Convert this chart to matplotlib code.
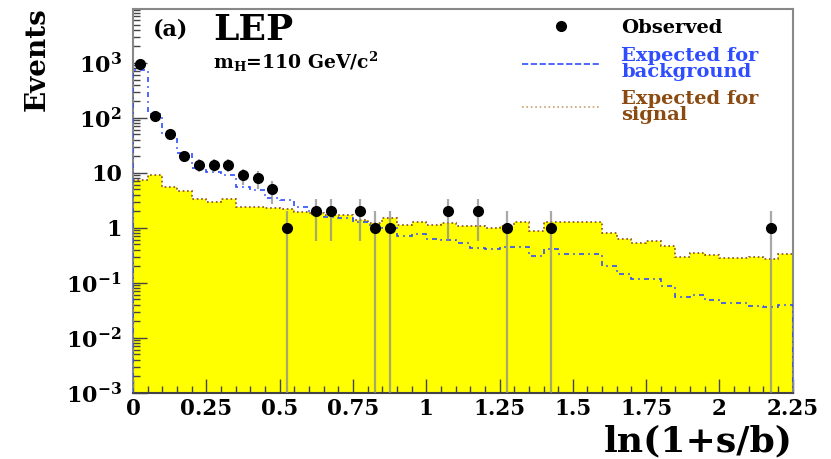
import matplotlib
matplotlib.use("Agg")
import matplotlib.pyplot as plt
import numpy as np
from matplotlib.lines import Line2D

plt.rcParams['font.family'] = 'DejaVu Serif'
plt.rcParams['font.weight'] = 'bold'
plt.rcParams['mathtext.fontset'] = 'dejavuserif'
plt.rcParams['mathtext.default'] = 'bf'

# 45 bins of width 0.05 on ln(1+s/b) from 0 to 2.25
edges = np.linspace(0, 2.25, 46)

background = [750, 120, 48, 23, 12.3, 10.6, 9.2, 5.6, 4.9, 3.5,
              3.2, 2.4, 1.8, 1.58, 1.5, 1.3, 1.15, 1.0, 0.7, 0.78,
              0.62, 0.6, 0.53, 0.44, 0.41, 0.45, 0.45, 0.31, 0.41, 0.33,
              0.33, 0.33, 0.2, 0.146, 0.116, 0.116, 0.088, 0.056, 0.06, 0.049,
              0.043, 0.043, 0.038, 0.036, 0.04]

signal = [7.5, 9.2, 5.6, 4.6, 3.4, 3.0, 3.4, 2.4, 2.4, 2.3,
          2.2, 1.95, 1.9, 1.72, 1.72, 1.4, 1.25, 1.5, 1.13, 1.28,
          1.13, 1.25, 1.09, 1.1, 1.0, 1.09, 1.3, 0.89, 1.3, 1.3,
          1.3, 1.3, 0.81, 0.63, 0.54, 0.58, 0.46, 0.29, 0.355, 0.32,
          0.28, 0.28, 0.30, 0.27, 0.34]

obs_x = [0.025, 0.075, 0.125, 0.175, 0.225, 0.275, 0.325, 0.375, 0.425, 0.475,
         0.525, 0.625, 0.675, 0.775, 0.825, 0.875, 1.075, 1.175, 1.275, 1.425,
         2.175]
obs_n = [950, 109, 51, 20, 14, 14, 14, 9, 8, 5,
         1, 2, 2, 2, 1, 1, 2, 2, 1, 1,
         1]

xticks = [0, 0.25, 0.5, 0.75, 1, 1.25, 1.5, 1.75, 2, 2.25]
xticklabels = ['0', '0.25', '0.5', '0.75', '1', '1.25', '1.5', '1.75', '2', '2.25']
yticks = [1e-3, 1e-2, 1e-1, 1, 10, 100, 1000]
yticklabels = [r'$10^{-3}$', r'$10^{-2}$', r'$10^{-1}$', '1', '10', r'$10^{2}$', r'$10^{3}$']

BLUE = '#2f4dff'
BROWN = '#8b4a10'
YMIN, YMAX = 1e-3, 9.5e3

fig = plt.figure(figsize=(8.31, 4.59), dpi=100)
ax = fig.add_axes([0.160, 0.144, 0.794, 0.836])

# signal: yellow filled histogram with dotted outline
ax.stairs(signal, edges, baseline=YMIN, fill=True, color='#ffff00', zorder=1)
ax.stairs(signal, edges, baseline=None, color=BROWN, linestyle=':', linewidth=1.2, zorder=2)

# background expectation
ax.stairs(background, edges, baseline=YMIN, color=BLUE, linestyle=(0, (3, 2.5, 1, 2.5)),
          linewidth=1.2, zorder=3)

# observed with sqrt(N) errors
obs_n_arr = np.array(obs_n, dtype=float)
err = np.sqrt(obs_n_arr)
lower = np.where(obs_n_arr - err <= 0, obs_n_arr - 1e-5, err)
ax.errorbar(obs_x, obs_n, yerr=[lower, err], fmt='none', ecolor='#8c8c8c',
            elinewidth=1.6, alpha=0.75, zorder=4)
ax.plot(obs_x, obs_n, 'o', color='black', markersize=7, zorder=5)

ax.set_yscale('log')
ax.set_xlim(0, 2.25)
ax.set_ylim(YMIN, YMAX)
ax.set_xticks(xticks)
ax.set_xticklabels(xticklabels)
ax.set_xticks(np.arange(0, 2.25, 0.05), minor=True)
ax.set_yticks(yticks)
ax.set_yticklabels(yticklabels)
ax.tick_params(axis='both', which='both', direction='in', top=False, right=False,
               colors='#444444', labelcolor='black')
ax.tick_params(axis='x', labelsize=15.5)
ax.tick_params(axis='y', labelsize=16, pad=8)
ax.tick_params(axis='both', which='major', length=10, width=1)
ax.tick_params(axis='both', which='minor', length=5, width=1)
for s in ax.spines.values():
    s.set_color('#888888')
    s.set_linewidth(1.5)
ax.spines['bottom'].set_color('#444444')

# labels
fig.text(0.045, 0.985, 'Events', rotation=90, ha='center', va='top',
         fontsize=20, fontweight='bold')
fig.text(0.954, 0.002, 'ln(1+s/b)', ha='right', va='bottom',
         fontsize=26, fontweight='bold')

ax.text(0.03, 0.975, '(a)', transform=ax.transAxes, ha='left', va='top',
        fontsize=16, fontweight='bold')
ax.text(0.121, 0.99, 'LEP', transform=ax.transAxes, ha='left', va='top',
        fontsize=26, fontweight='bold')
ax.text(0.121, 0.895, r'm$_{\mathbf{H}}$=110 GeV/c$^{2}$', transform=ax.transAxes,
        ha='left', va='top', fontsize=13.5, fontweight='bold')

handles = [
    Line2D([], [], marker='o', color='black', linestyle='none', markersize=7),
    Line2D([], [], color=BLUE, linestyle='--', linewidth=1.2),
    Line2D([], [], color='#c8a070', linestyle=':', linewidth=1.2),
]
labels = ['Observed', 'Expected for\nbackground', 'Expected for\nsignal']
leg = ax.legend(handles, labels, loc='upper right', bbox_to_anchor=(0.975, 1.02),
                frameon=False, handlelength=4, handletextpad=1.1,
                labelspacing=0.5, labelcolor=['black', BLUE, BROWN],
                prop={'family': 'DejaVu Serif', 'weight': 'bold', 'size': 14})
for t in leg.get_texts():
    t.set_linespacing(0.85)

fig.savefig('out.png', dpi=100)
